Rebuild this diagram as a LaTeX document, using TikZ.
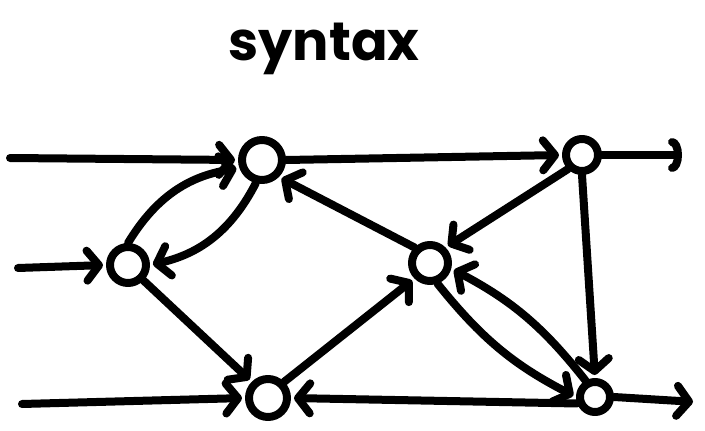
\documentclass[tikz,border=0pt]{standalone}
\usepackage{fontspec}
\setmainfont{Poppins}
\usetikzlibrary{arrows.meta}
\begin{document}
\begin{tikzpicture}[x=1pt,y=-1pt,
  lw/.style={line width=8pt,line cap=round,line join=round},
  state/.style={circle,draw,lw,inner sep=0pt},
  arr/.style={lw,-{Straight Barb[length=12pt,width=30pt,round]},shorten >=3pt},
  arcarr/.style={lw,-{Arc Barb[length=10pt,width=34pt,round]}},
  title/.style={font=\fontsize{54}{54}\selectfont\bfseries,inner sep=0pt,anchor=base}]
\useasboundingbox (0,0) rectangle (705,431);
\node[title] (T) at (324,60) {syntax};
\node[state,minimum size=40pt] (A) at (262,160) {};
\node[state,minimum size=36pt] (B) at (128,265) {};
\node[state,minimum size=38pt] (C) at (268,398) {};
\node[state,minimum size=36pt] (D) at (430,263) {};
\node[state,minimum size=32pt] (E) at (582,155) {};
\node[state,minimum size=30pt] (F) at (595,397) {};
\coordinate (i1) at (10,158);
\coordinate (i2) at (18,268);
\coordinate (i3) at (22,404);
\coordinate (o1) at (682,155);
\coordinate (o2) at (696,402);
\draw[arr] (i1) -- (A.west);
\draw[arr] (i2) -- (B.west);
\draw[arr] (i3) -- (C.west);
\draw[arr] (A.east) -- (E.west);
\draw[arcarr] (E.east) -- (o1);
\draw[arr] (F.east) -- (o2);
\draw[arr] (B.north) to[bend left=25] (A.200);
\draw[arr] (A.255) to[bend left=25] (B.east);
\draw[arr] (B.south east) -- (C.north west);
\draw[arr] (C.north east) -- (D.south west);
\draw[arr] (D.north west) -- (A.south east);
\draw[arr] (E.south west) -- (D.north east);
\draw[arr] (E.south) -- (F.north);
\draw[arr] (D.290) to[bend right=12] (F.west);
\draw[arr] (F.120) to[bend right=12] (D.345);
\draw[arr] (F.200) -- (C.east);
\end{tikzpicture}
\end{document}
